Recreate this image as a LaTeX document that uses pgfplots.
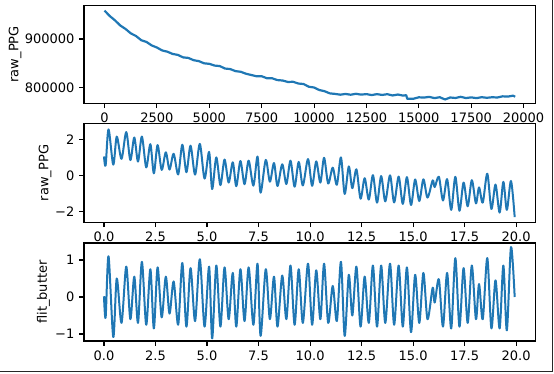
\documentclass[border=0pt]{standalone}
\usepackage{fontspec}
\setmainfont{DejaVu Sans}
\usepackage{pgfplots}
\pgfplotsset{compat=1.18}
\definecolor{mplblue}{HTML}{1F77B4}
\pgfplotsset{
  mpl/.style={
    scale only axis, width=451.7pt,
    scaled ticks=false,
    axis line style={line width=1.05pt, black},
    tick align=outside, major tick length=4.7pt,
    every tick/.style={black, line width=1.05pt},
    tick pos=left,
    every tick label/.append style={font=\fontsize{13}{15}\selectfont, inner sep=0pt},
    xticklabel style={yshift=-4.7pt},
    yticklabel style={xshift=-4.7pt},
    ylabel style={font=\fontsize{13}{15}\selectfont, anchor=center, inner sep=0pt},
    anchor=south west,
  }
}
\begin{document}
\begin{tikzpicture}
\useasboundingbox (0,0) rectangle (554pt,373pt);
% top
\begin{axis}[mpl, at={(84pt,269.7pt)}, height=98pt,
  xmin=-980, xmax=20580, ymin=767420, ymax=969485,
  xtick={0,2500,5000,7500,10000,12500,15000,17500,20000},
  xticklabels={0,2500,5000,7500,10000,12500,15000,17500,20000},
  ytick={800000,900000}, yticklabels={800000,900000},
  ylabel={raw\_PPG}, ylabel style={at={(axis description cs:-0.1528,0.5)}}]
\addplot[mplblue, line width=2.2pt, no marks, line join=round] coordinates {
(0,958500)(250,947300)(500,938400)(750,927900)(1000,920800)(1250,911700)(1500,906200)(1750,897600)
(2000,894000)(2250,886800)(2500,882400)(2750,876400)(3000,873800)(3250,869200)(3500,867200)(3750,862100)
(4000,861000)(4250,856300)(4500,854400)(4750,849900)(5000,848800)(5250,845200)(5500,844200)(5750,839100)
(6000,838000)(6250,833800)(6500,832400)(6750,828400)(7000,825800)(7250,823200)(7500,823200)(7750,819100)
(8000,819000)(8250,815300)(8500,814400)(8750,811400)(9000,811800)(9250,808200)(9500,807200)(9750,801600)
(10000,800000)(10250,794800)(10500,792400)(10750,787900)(11000,786800)(11250,785200)(11500,786700)(11750,785100)
(12000,787000)(12250,785300)(12500,786400)(12750,784400)(13000,786300)(13250,784700)(13500,786200)(13750,783600)
(14000,785500)(14250,783300)(14400,784200)(14450,776500)(14500,776900)(14750,776900)(15000,779800)(15250,779200)
(15500,780700)(15750,778100)(16000,780000)(16250,775300)(16500,779400)(16750,778400)(17000,780800)(17250,778200)
(17500,779700)(17750,778100)(18000,780000)(18250,778800)(18500,779900)(18750,779400)(19000,781800)(19250,781200)
(19500,783200)(19600,781000)};
\end{axis}
% middle
\begin{axis}[mpl, at={(84pt,150.5pt)}, height=99pt,
  xmin=-0.97, xmax=20.95, ymin=-2.597, ymax=2.873,
  xtick={0,2.5,5,7.5,10,12.5,15,17.5,20},
  xticklabels={0.0,2.5,5.0,7.5,10.0,12.5,15.0,17.5,20.0},
  ytick={-2,0,2}, yticklabels={−2,0,2},
  ylabel={raw\_PPG}, ylabel style={at={(axis description cs:-0.0863,0.5)}}]
\addplot[mplblue, line width=2pt, no marks, smooth, tension=0.5, line join=round] coordinates {
(0,1.05)(0.08,0.55)(0.22,2.55)(0.45,0.6)(0.62,2.15)(0.85,0.92)(1.08,2.4)(1.28,0.85)(1.47,2.1)(1.65,0.77)
(1.84,2.15)(2.05,0.45)(2.25,1.73)(2.42,0.12)(2.6,1.68)(2.8,0.31)(3.0,1.28)(3.18,0.33)(3.38,1.2)(3.6,0.06)
(3.8,1.7)(4.0,0.18)(4.2,1.65)(4.42,0.05)(4.65,1.75)(4.88,-0.17)(5.1,1.3)(5.25,-0.75)(5.45,1.0)(5.65,-0.53)
(5.85,0.88)(6.05,-0.39)(6.25,0.73)(6.42,-0.59)(6.62,0.8)(6.82,-0.48)(7.02,0.82)(7.25,-0.56)(7.45,1.05)(7.6,-0.95)
(7.85,0.86)(8.05,-0.34)(8.25,0.69)(8.42,-0.58)(8.65,0.62)(8.85,-0.47)(9.05,0.82)(9.25,-0.62)(9.45,0.75)(9.65,-0.55)
(9.9,0.91)(10.1,-0.57)(10.3,0.78)(10.5,-0.39)(10.68,0.98)(10.88,-0.44)(11.1,0.43)(11.3,-0.51)(11.5,1.0)(11.68,-1.02)
(11.88,0.5)(12.05,-0.7)(12.25,0.34)(12.45,-1.28)(12.65,-0.15)(12.85,-1.33)(13.05,0.02)(13.25,-1.5)(13.45,-0.03)(13.65,-1.43)
(13.88,0.01)(14.08,-1.49)(14.3,-0.06)(14.5,-1.57)(14.7,-0.09)(14.9,-1.63)(15.1,-0.22)(15.3,-1.41)(15.5,-0.21)(15.7,-1.22)
(15.95,-0.27)(16.05,-0.64)(16.25,-0.07)(16.45,-1.38)(16.65,-0.2)(16.85,-1.9)(17.05,-0.07)(17.25,-1.95)(17.45,-0.39)(17.65,-1.7)
(17.85,-0.26)(18.05,-1.54)(18.2,-0.66)(18.38,-1.5)(18.6,0.1)(18.8,-1.85)(19.0,-0.5)(19.2,-2.05)(19.38,-0.35)(19.55,-1.9)
(19.75,-0.3)(19.93,-2.3)};
\end{axis}
% bottom
\begin{axis}[mpl, at={(84pt,32pt)}, height=98pt,
  xmin=-0.97, xmax=20.95, ymin=-1.189, ymax=1.459,
  xtick={0,2.5,5,7.5,10,12.5,15,17.5,20},
  xticklabels={0.0,2.5,5.0,7.5,10.0,12.5,15.0,17.5,20.0},
  ytick={-1,0,1}, yticklabels={−1,0,1},
  ylabel={flit\_butter}, ylabel style={at={(axis description cs:-0.0897,0.5)}}]
\addplot[mplblue, line width=2pt, no marks, smooth, tension=0.5, line join=round] coordinates {
(0,0.02)(0.08,-0.55)(0.22,1.1)(0.45,-1.08)(0.62,0.5)(0.85,-0.7)(1.08,0.82)(1.28,-0.6)(1.47,0.55)(1.65,-0.7)
(1.84,0.95)(2.05,-0.75)(2.25,0.75)(2.42,-0.85)(2.6,0.8)(2.8,-0.55)(3.0,0.55)(3.18,-0.45)(3.38,0.42)(3.6,-0.75)
(3.8,0.92)(4.0,-0.8)(4.2,0.78)(4.42,-0.65)(4.65,1.02)(4.88,-0.8)(5.1,0.82)(5.25,-1.12)(5.45,0.85)(5.65,-0.8)
(5.85,0.8)(6.05,-0.6)(6.25,0.65)(6.42,-0.8)(6.62,0.75)(6.82,-0.65)(7.02,0.8)(7.25,-0.75)(7.45,0.9)(7.6,-1.05)
(7.85,0.75)(8.05,-0.6)(8.25,0.55)(8.42,-0.8)(8.65,0.58)(8.85,-0.6)(9.05,0.85)(9.25,-0.75)(9.45,0.75)(9.65,-0.7)
(9.9,0.9)(10.1,-0.75)(10.3,0.72)(10.5,-0.6)(10.68,0.9)(10.88,-0.7)(11.1,0.3)(11.3,-0.65)(11.5,0.95)(11.68,-1.05)
(11.88,0.6)(12.05,-0.5)(12.25,0.82)(12.45,-0.8)(12.65,0.55)(12.85,-0.7)(13.05,0.85)(13.25,-0.8)(13.45,0.85)(13.65,-0.7)
(13.88,0.9)(14.08,-0.75)(14.3,0.85)(14.5,-0.8)(14.7,0.8)(14.9,-0.95)(15.1,0.6)(15.3,-0.7)(15.5,0.65)(15.7,-0.6)
(15.95,0.25)(16.05,-0.15)(16.25,0.48)(16.45,-0.8)(16.65,0.65)(16.85,-0.85)(17.05,1.05)(17.25,-0.8)(17.45,0.78)(17.65,-0.7)
(17.85,0.85)(18.05,-0.6)(18.2,0.35)(18.38,-0.6)(18.6,1.05)(18.8,-0.85)(19.0,0.45)(19.2,-0.85)(19.38,0.85)(19.55,-0.9)
(19.75,1.35)(19.93,0.0)};
\end{axis}
\draw[line width=1.2pt, black!85] (552.8pt,373pt) -- (552.8pt,1.3pt) -- (0pt,1.3pt);
\end{tikzpicture}
\end{document}
